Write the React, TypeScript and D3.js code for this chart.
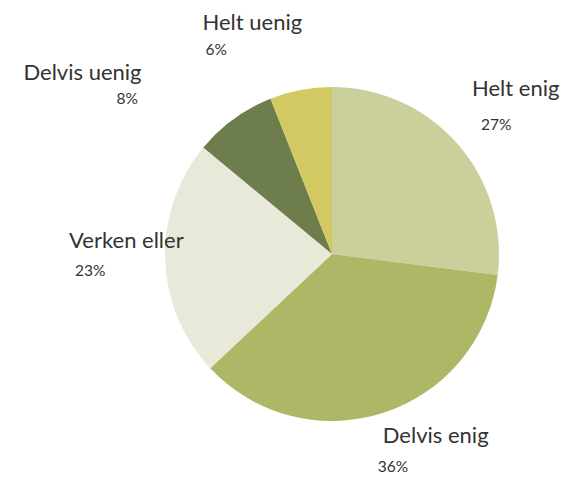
import React from 'react';
import * as d3 from 'd3';

// Survey answer shares (percent)
const categories = ['Helt enig', 'Delvis enig', 'Verken eller', 'Delvis uenig', 'Helt uenig'];
const values = [27, 36, 23, 8, 6];
const colors = ['#cbcf9c', '#adb766', '#e8e9d9', '#6d7e4c', '#d3c963'];

// Label placement relative to the outer-arc centroid of each slice
const labelOffsets = [
  { lx: -10, ly: -26, px: -1, py: 8 },
  { lx: -11, ly: -1, px: -16, py: 28 },
  { lx: -63, ly: -12, px: -57, py: 16 },
  { lx: -191, ly: -12, px: -98, py: 12 },
  { lx: -92, ly: -28, px: -89, py: -3 },
];

export default function App() {
  const width = 563;
  const height = 480;
  const cx = 332;
  const cy = 254;
  const radius = 167;

  const data = categories.map((name, i) => ({ name, value: values[i], color: colors[i], i }));

  const pie = d3
    .pie<any>()
    .value((d) => d.value)
    .sort(null);
  const arcs = pie(data);

  const arc = d3.arc<any>().innerRadius(0).outerRadius(radius);
  const labelArc = d3.arc<any>().innerRadius(200).outerRadius(200);

  const font = 'Lato, "Open Sans", sans-serif';

  return (
    <div style={{ position: 'absolute', left: 0, top: 0 }}>
      <svg width={width} height={height} style={{ display: 'block', background: '#fff' }}>
        <g transform={`translate(${cx},${cy})`}>
          {arcs.map((a) => (
            <path key={a.data.name} d={arc(a) || ''} fill={a.data.color} />
          ))}
          {arcs.map((a) => {
            const [x, y] = labelArc.centroid(a);
            const o = labelOffsets[a.data.i];
            return (
              <g key={'l' + a.data.name} fontFamily={font} fill="#333">
                <text x={x + o.lx} y={y + o.ly} fontSize={22}>
                  {a.data.name}
                </text>
                <text x={x + o.px} y={y + o.py} fontSize={15.5}>
                  {a.data.value}%
                </text>
              </g>
            );
          })}
        </g>
      </svg>
    </div>
  );
}
